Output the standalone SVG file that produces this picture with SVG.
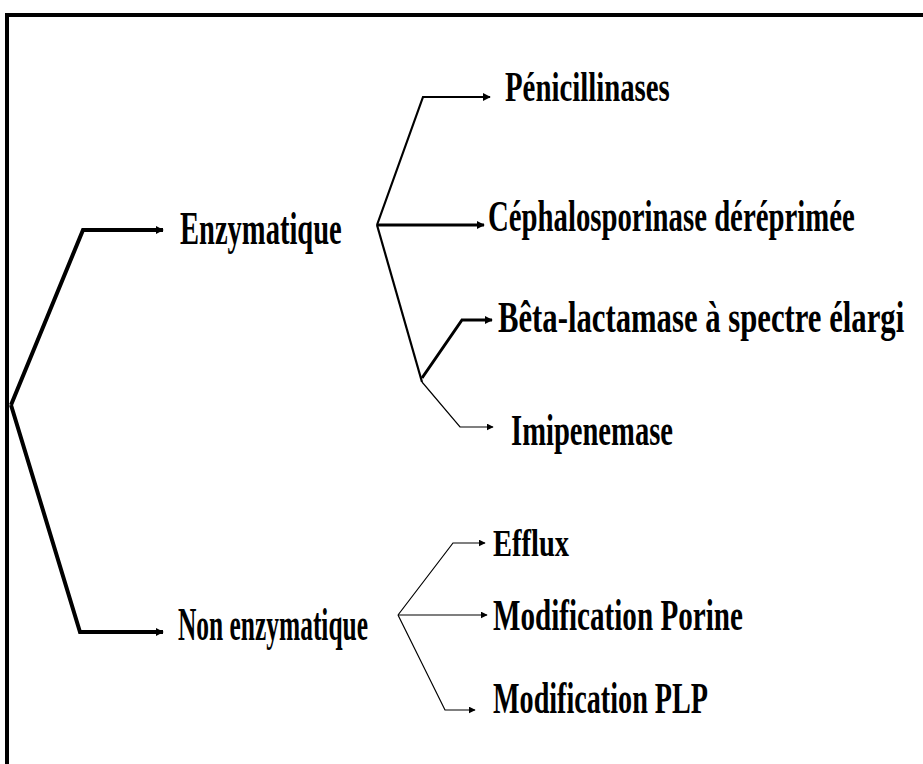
<svg xmlns="http://www.w3.org/2000/svg" width="923" height="764" viewBox="0 0 923 764">
<defs>
<marker id="ah" viewBox="0 0 10 10" refX="9" refY="5" markerWidth="8" markerHeight="8" markerUnits="userSpaceOnUse" orient="auto"><path d="M0,0 L10,5 L0,10 Z" fill="#000"/></marker>
<marker id="ahs" viewBox="0 0 10 10" refX="9" refY="5" markerWidth="7" markerHeight="7" markerUnits="userSpaceOnUse" orient="auto"><path d="M0,0 L10,5 L0,10 Z" fill="#000"/></marker>
</defs>
<style>
text{font-family:"Liberation Serif","Times New Roman",serif;font-weight:bold;font-size:44px;fill:#000}
.c{fill:none;stroke:#000;stroke-linejoin:miter}
.t4{stroke-width:4}
.t3{stroke-width:3}
.t2{stroke-width:2.2}
.t1{stroke-width:1.2}
</style>
<rect width="923" height="764" fill="#fff"/>
<path d="M7,764 V15 H923" fill="none" stroke="#000" stroke-width="4"/>
<g id="connectors">
<path class="c t4" d="M11,405 L83,230 H163" marker-end="url(#ah)"/>
<path class="c t4" d="M11,405 L80,632 H163" marker-end="url(#ah)"/>
<path class="c t2" d="M377,225 L423,97 H490" marker-end="url(#ah)"/>
<path class="c t3" d="M377,225 H484" marker-end="url(#ah)"/>
<path class="c t2" d="M377,225 L422,382"/>
<path class="c t3" d="M422,378 L462,320 H492" marker-end="url(#ah)"/>
<path class="c t1" d="M422,382 L460,427 H493" marker-end="url(#ahs)"/>
<path class="c t1" d="M398,615 L453,543 H485" marker-end="url(#ahs)"/>
<path class="c t1" d="M398,615 H487" marker-end="url(#ahs)"/>
<path class="c t1" d="M398,615 L445,710 H475" marker-end="url(#ahs)"/>
</g>
<g id="enzymatique"><text transform="translate(180,244) scale(0.621,1)" style="font-size:46px">Enzymatique</text></g>
<g id="non-enzymatique"><text transform="translate(178,640) scale(0.553,1)" style="font-size:46px">Non enzymatique</text></g>
<g id="penicillinases"><text transform="translate(505,101) scale(0.686,1)" style="font-size:42px">Pénicillinases</text></g>
<g id="cephalosporinase"><text transform="translate(488,231) scale(0.654,1)">Céphalosporinase déréprimée</text></g>
<g id="beta-lactamase"><text transform="translate(498,332) scale(0.698,1)">Bêta-lactamase à spectre élargi</text></g>
<g id="imipenemase"><text transform="translate(511,445) scale(0.65,1)">Imipenemase</text></g>
<g id="efflux"><text transform="translate(493,556) scale(0.75,1)" style="font-size:38px">Efflux</text></g>
<g id="modification-porine"><text transform="translate(493,630) scale(0.662,1)">Modification Porine</text></g>
<g id="modification-plp"><text transform="translate(493,713) scale(0.64,1)">Modification PLP</text></g>
</svg>
